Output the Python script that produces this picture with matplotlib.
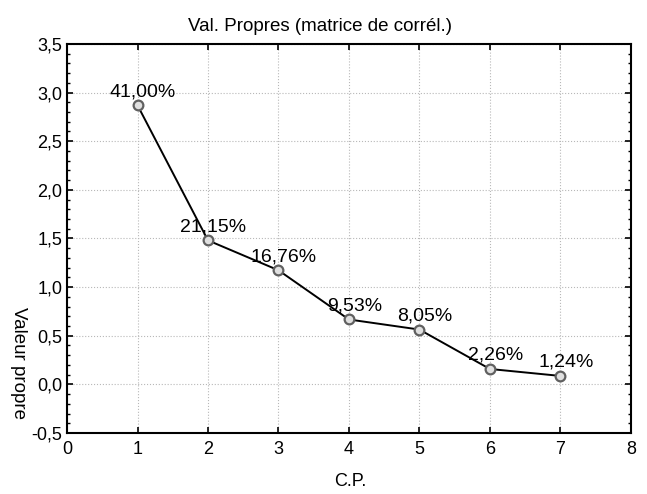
import matplotlib
matplotlib.use("Agg")
import matplotlib.pyplot as plt
from matplotlib.ticker import MultipleLocator, FuncFormatter

# data
cp = [1, 2, 3, 4, 5, 6, 7]
eigenvalues = [2.870, 1.4805, 1.1732, 0.6671, 0.5635, 0.1582, 0.0868]
pct_labels = ["41,00%", "21,15%", "16,76%", "9,53%", "8,05%", "2,26%", "1,24%"]

plt.rcParams['font.family'] = ['Liberation Sans', 'DejaVu Sans']

fig = plt.figure(figsize=(6.47, 4.94), dpi=100)
ax = fig.add_axes([0.1036, 0.1235, 0.8714, 0.7875])

ax.plot(cp, eigenvalues, color='black', lw=1.4, marker='o', ms=7,
        mfc='#e0e0e0', mec='#606060', mew=1.6, zorder=3)

for x, y, s in zip(cp, eigenvalues, pct_labels):
    ax.annotate(s, (x, y), xytext=(4, 6.5), textcoords='offset points',
                ha='center', va='baseline', fontsize=14)

ax.set_xlim(0, 8)
ax.set_ylim(-0.5, 3.5)
ax.xaxis.set_major_locator(MultipleLocator(1))
ax.yaxis.set_major_locator(MultipleLocator(0.5))
ax.yaxis.set_minor_locator(MultipleLocator(0.1))
ax.yaxis.set_major_formatter(FuncFormatter(lambda v, p: f"{v:.1f}".replace('.', ',')))

ax.tick_params(which='both', direction='in', top=True, right=True, labelsize=13)
ax.tick_params(axis='x', pad=6)
ax.tick_params(which='major', length=4, width=1.2)
ax.tick_params(which='minor', length=2.5, width=1)
for sp in ax.spines.values():
    sp.set_linewidth(1.5)

ax.grid(True, which='major', ls=':', color='#b8b8b8', lw=0.8)

fig.text(0.495, 0.937, "Val. Propres (matrice de corrél.)", ha='center', va='baseline', fontsize=13.5)
fig.text(0.541, 1 - 481 / 494, "C.P.", ha='center', va='center', fontsize=13)
fig.text(0.028, 0.265, "Valeur propre", rotation=270, ha='center', va='center', fontsize=13.5)

fig.savefig("out.png", dpi=100)
